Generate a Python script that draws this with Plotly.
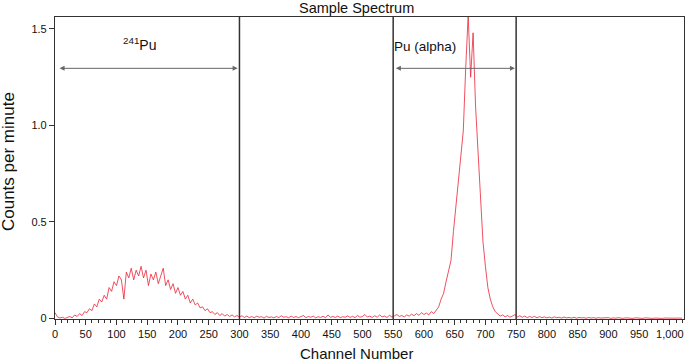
import plotly.graph_objects as go

# Channel numbers (every 4th channel of a 1024-channel spectrum)
channels = list(range(0, 1024, 4))

# Counts per minute
counts = [
    0.03, 0.008, 0.002, 0.006, 0.0, 0.004, 0.01, 0.003, 0.018, 0.01,
    0.025, 0.015, 0.035, 0.03, 0.05, 0.04, 0.075, 0.06, 0.1, 0.085,
    0.12, 0.1, 0.16, 0.14, 0.19, 0.17, 0.22, 0.2, 0.1, 0.24,
    0.21, 0.26, 0.2, 0.25, 0.22, 0.27, 0.21, 0.25, 0.17, 0.23,
    0.2, 0.24, 0.18, 0.22, 0.26, 0.17, 0.2, 0.15, 0.18, 0.13,
    0.16, 0.12, 0.14, 0.1, 0.12, 0.08, 0.1, 0.07, 0.08, 0.055,
    0.06, 0.04, 0.05, 0.03, 0.035, 0.02, 0.03, 0.015, 0.025, 0.012,
    0.02, 0.01, 0.018, 0.008, 0.015, 0.006, 0.014, 0.005, 0.012, 0.004,
    0.01, 0.003, 0.012, 0.006, 0.009, 0.002, 0.011, 0.005, 0.008, 0.003,
    0.01, 0.004, 0.014, 0.006, 0.009, 0.003, 0.012, 0.005, 0.01, 0.004,
    0.008, 0.015, 0.004, 0.01, 0.006, 0.012, 0.003, 0.009, 0.005, 0.011,
    0.004, 0.018, 0.006, 0.01, 0.005, 0.012, 0.004, 0.009, 0.006, 0.013,
    0.005, 0.011, 0.004, 0.015, 0.006, 0.01, 0.02, 0.007, 0.012, 0.005,
    0.014, 0.006, 0.018, 0.008, 0.012, 0.005, 0.016, 0.007, 0.013, 0.02,
    0.01, 0.015, 0.008, 0.018, 0.012, 0.022, 0.014, 0.025, 0.016, 0.03,
    0.02, 0.028, 0.018, 0.035, 0.025, 0.045, 0.06, 0.1, 0.13, 0.19,
    0.25, 0.3, 0.45, 0.58, 0.72, 0.85, 0.97, 1.3, 1.57, 1.25,
    1.48, 1.1, 0.85, 0.65, 0.4, 0.27, 0.16, 0.1, 0.06, 0.035,
    0.025, 0.012, 0.018, 0.008, 0.015, 0.006, 0.012, 0.02, 0.008, 0.014,
    0.006, 0.012, 0.004, 0.01, 0.005, 0.011, 0.003, 0.009, 0.004, 0.008,
    0.003, 0.007, 0.002, 0.008, 0.004, 0.006, 0.002, 0.007, 0.003, 0.005,
    0.002, 0.006, 0.001, 0.005, 0.003, 0.004, 0.001, 0.005, 0.002, 0.004,
    0.001, 0.004, 0.002, 0.003, 0.001, 0.004, 0.0, 0.003, 0.001, 0.004,
    0.002, 0.0, 0.003, 0.001, 0.002, 0.0, 0.003, 0.001, 0.002, 0.0,
    0.003, 0.001, 0.002, 0.0, 0.002, 0.001, 0.003, 0.0, 0.002, 0.001,
    0.002, 0.0, 0.001, 0.002, 0.0, 0.001,
]

# Region boundaries (channels)
boundaries = [300, 550, 750]

x_tickvals = list(range(0, 1001, 50))
x_ticktext = ["1,000" if v == 1000 else str(v) for v in x_tickvals]
y_tickvals = [0, 0.5, 1.0, 1.5]
y_ticktext = ["0", "0.5", "1.0", "1.5"]

FONT = "Liberation Sans, Arial, Helvetica, sans-serif"

fig = go.Figure()
fig.add_trace(go.Scatter(
    x=channels, y=counts, mode="lines",
    line=dict(color="rgb(235,35,55)", width=0.8),
    showlegend=False, hoverinfo="skip",
))

for b in boundaries:
    fig.add_shape(type="line", xref="x", yref="paper", x0=b, x1=b, y0=0, y1=1,
                  line=dict(color="#333333", width=1.5))

# Double-headed arrows spanning the regions
arrow_y = 1.296
for x0, x1 in [(5, 297), (552, 748)]:
    fig.add_annotation(x=x1, y=arrow_y, ax=x0, ay=arrow_y, xref="x", yref="y",
                       axref="x", ayref="y", text="", showarrow=True,
                       arrowhead=2, startarrowhead=2, arrowside="end+start",
                       arrowsize=1, arrowwidth=1, arrowcolor="#666666")

fig.add_annotation(x=138, y=1.42, xref="x", yref="y", text="<sup>241</sup>Pu",
                   showarrow=False, font=dict(size=14, color="#111111"))
fig.add_annotation(x=602, y=1.41, xref="x", yref="y", text="Pu (alpha)",
                   showarrow=False, font=dict(size=13.5, color="#111111"))

# Title and axis titles placed as annotations
fig.add_annotation(x=0.48, y=1.03, xref="paper", yref="paper", text="Sample Spectrum",
                   showarrow=False, xanchor="center", yanchor="middle",
                   font=dict(size=14.5, color="#111111"))
fig.add_annotation(x=0.48, y=-0.113, xref="paper", yref="paper", text="Channel Number",
                   showarrow=False, xanchor="center", yanchor="middle",
                   font=dict(size=15, color="#111111"))
fig.add_annotation(x=-0.073, y=0.52, xref="paper", yref="paper", text="Counts per minute",
                   showarrow=False, xanchor="center", yanchor="middle", textangle=-90,
                   font=dict(size=17, color="#111111"))

fig.update_layout(
    width=685, height=362,
    margin=dict(l=55, r=1, t=17, b=43, autoexpand=False),
    paper_bgcolor="white", plot_bgcolor="white",
    font=dict(family=FONT, size=11, color="#111111"),
)
fig.update_xaxes(
    range=[0, 1023], showgrid=False, zeroline=False,
    showline=True, linecolor="#333333", linewidth=1.2, mirror=True,
    tickmode="array", tickvals=x_tickvals, ticktext=x_ticktext,
    ticks="outside", ticklen=5, tickwidth=1, tickcolor="#333333",
    minor=dict(dtick=10, ticks="outside", ticklen=3, tickcolor="#333333", tickwidth=1),
    tickfont=dict(size=11), automargin=False,
)
fig.update_yaxes(
    range=[-0.003, 1.562], showgrid=False, zeroline=False,
    showline=True, linecolor="#333333", linewidth=1.2, mirror=True,
    tickmode="array", tickvals=y_tickvals, ticktext=y_ticktext,
    ticks="outside", ticklen=5, tickwidth=1, tickcolor="#333333",
    tickfont=dict(size=11), automargin=False,
)

fig.write_html("out.html", config={"displayModeBar": False},
               post_script="document.body.style.margin='0';")
